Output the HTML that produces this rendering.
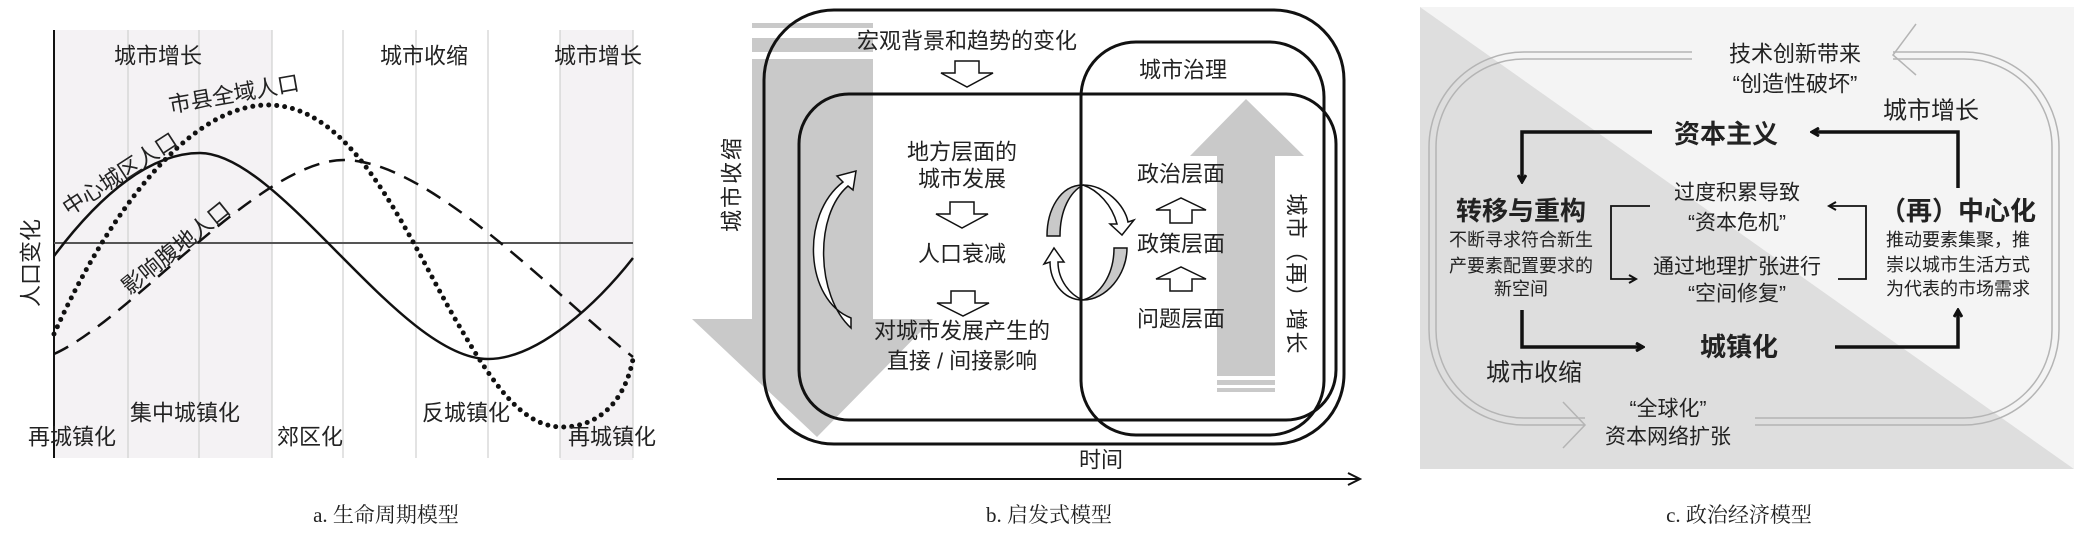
<!DOCTYPE html>
<html><head><meta charset="utf-8"><style>
html,body{margin:0;padding:0;background:#fff;}
svg{display:block;}
text{font-family:"Liberation Sans","Noto Sans CJK SC",sans-serif;fill:#222;}
.cap{font-family:"Liberation Serif","Noto Serif CJK SC",serif;font-size:21px;}
</style></head><body>
<svg width="2080" height="549" viewBox="0 0 2080 549" xmlns="http://www.w3.org/2000/svg">
<defs>
<marker id="ah" markerWidth="10" markerHeight="10" refX="8" refY="5" orient="auto" markerUnits="userSpaceOnUse">
<path d="M1,1 L8,5 L1,9" fill="none" stroke="#111" stroke-width="3"/></marker>
<marker id="ah2" markerWidth="10" markerHeight="10" refX="8" refY="5" orient="auto" markerUnits="userSpaceOnUse">
<path d="M1,1 L8,5 L1,9" fill="none" stroke="#111" stroke-width="2"/></marker>
<marker id="ah3" markerWidth="16" markerHeight="16" refX="14" refY="8" orient="auto" markerUnits="userSpaceOnUse">
<path d="M2,2 L14,8 L2,14" fill="none" stroke="#111" stroke-width="2"/></marker>
</defs>

<!-- ===== Panel a ===== -->
<rect x="54" y="30" width="218" height="428" fill="#f4f2f4"/>
<rect x="560" y="30" width="73" height="430" fill="#f4f2f4"/>
<g stroke="#d0d0d0" stroke-width="1.2">
<line x1="128" y1="30" x2="128" y2="458"/><line x1="199" y1="30" x2="199" y2="458"/>
<line x1="272" y1="30" x2="272" y2="458"/><line x1="343" y1="30" x2="343" y2="458"/>
<line x1="416" y1="30" x2="416" y2="458"/><line x1="488" y1="30" x2="488" y2="458"/>
<line x1="560" y1="30" x2="560" y2="458"/><line x1="633" y1="30" x2="633" y2="458"/>
</g>
<line x1="54" y1="30" x2="54" y2="458" stroke="#111" stroke-width="2"/>
<line x1="54" y1="243" x2="633" y2="243" stroke="#555" stroke-width="2"/>
<path d="M54,256 C100,195 150,153 200,153 C280,153 400,359 488,359 C540,359 600,300 633,258" fill="none" stroke="#111" stroke-width="2.5"/>
<path d="M54,334 C110,210 190,105 268,105 C350,105 400,220 450,310 C490,380 520,427 562,427 C600,427 625,400 633,359" fill="none" stroke="#111" stroke-width="5" stroke-dasharray="0 8" stroke-linecap="round"/>
<path d="M54,354 C130,320 260,160 344,160 C430,160 560,300 633,357" fill="none" stroke="#111" stroke-width="2.5" stroke-dasharray="16 10"/>
<g font-size="22" text-anchor="middle" dominant-baseline="central">
<text x="158" y="56">城市增长</text><text x="424" y="56">城市收缩</text><text x="598" y="56">城市增长</text>
<text x="185" y="413">集中城镇化</text><text x="72" y="437">再城镇化</text><text x="310" y="437">郊区化</text>
<text x="466" y="413">反城镇化</text><text x="612" y="437">再城镇化</text>
<text transform="translate(31,263) rotate(-90)">人口变化</text>
<text transform="translate(120,174) rotate(-33)">中心城区人口</text>
<text transform="translate(234,94) rotate(-10)">市县全域人口</text>
<text transform="translate(176,248) rotate(-39)">影响腹地人口</text>
</g>
<text class="cap" x="386" y="515" text-anchor="middle" dominant-baseline="central">a. 生命周期模型</text>

<!-- ===== Panel b ===== -->
<g fill="#c9c9c9">
<rect x="752" y="23" width="121" height="5"/><rect x="752" y="38" width="121" height="14"/>
<rect x="752" y="59" width="121" height="261"/>
<polygon points="692,319 933,319 817,437"/>
<rect x="1217" y="155" width="58" height="221"/><rect x="1217" y="380" width="58" height="5"/><rect x="1217" y="388" width="58" height="4"/>
<polygon points="1190,156 1304,156 1246,99"/>
</g>
<g fill="none" stroke="#111" stroke-width="3">
<rect x="764" y="10" width="580" height="434" rx="70"/>
<rect x="1081" y="42" width="243" height="393" rx="55"/>
<rect x="799" y="94" width="537" height="326" rx="50"/>
</g>
<g font-size="22" text-anchor="middle" dominant-baseline="central">
<text x="967" y="41">宏观背景和趋势的变化</text>
<text x="1183" y="70">城市治理</text>
<text x="962" y="152">地方层面的</text><text x="962" y="179">城市发展</text>
<text x="962" y="254">人口衰减</text>
<text x="962" y="331">对城市发展产生的</text><text x="962" y="361">直接 / 间接影响</text>
<text x="1181" y="174">政治层面</text><text x="1181" y="244">政策层面</text><text x="1181" y="319">问题层面</text>
<text x="1101" y="460">时间</text>
<text transform="translate(732,184) rotate(-90)" letter-spacing="2">城市收缩</text>
<text transform="translate(1296,274) rotate(90)" letter-spacing="1">城市（再）增长</text>
</g>
<g fill="#fff" stroke="#111" stroke-width="1.5">
<polygon points="955,61 979,61 979,73 993,73 967,87 941,73 955,73"/>
<polygon points="950,202 974,202 974,214 988,214 962,228 936,214 950,214"/>
<polygon points="951,291 975,291 975,303 989,303 963,316 937,303 951,303"/>
<polygon points="1170,223 1192,223 1192,210 1206,210 1181,198 1156,210 1170,210"/>
<polygon points="1170,291 1192,291 1192,279 1206,279 1181,267 1156,279 1170,279"/>
<path d="M851,318 C805,300 800,215 843,182 L837,176 L856,171 L853,190 L848,186 C814,215 816,296 851,328 Z"/>
</g>
<!-- cycle -->
<g stroke="#111" stroke-width="1.5">
<path d="M1083,185 C1060,185 1047,210 1047,236 L1060,236 C1060,210 1070,192 1083,185 Z" fill="#c9c9c9"/>
<path d="M1083,185 C1105,185 1125,205 1128,222 L1134,220 L1122,235 L1110,224 L1117,224 C1112,205 1098,190 1083,185 Z" fill="#fff"/>
<path d="M1083,300 C1106,300 1127,275 1127,248 L1114,248 C1114,275 1100,295 1083,300 Z" fill="#c9c9c9"/>
<path d="M1083,300 C1062,300 1050,280 1050,262 L1044,264 L1054,248 L1064,262 L1058,262 C1058,280 1070,295 1083,300 Z" fill="#fff"/>
</g>
<line x1="777" y1="479" x2="1360" y2="479" stroke="#111" stroke-width="2" marker-end="url(#ah3)"/>
<text class="cap" x="1049" y="515" text-anchor="middle" dominant-baseline="central">b. 启发式模型</text>

<!-- ===== Panel c ===== -->
<polygon points="1420,7 2074,7 2074,469" fill="#f4f4f4"/>
<polygon points="1420,7 2074,469 1420,469" fill="#dedede"/>
<g fill="none" stroke="#b4b4b4" stroke-width="1.5">
<rect x="1429" y="52" width="630" height="373" rx="95"/>
<rect x="1436" y="59" width="616" height="359" rx="88"/>
</g>
<rect x="1692" y="48" width="201" height="16" fill="#f4f4f4"/>
<rect x="1585" y="414" width="170" height="16" fill="#dedede"/>
<g fill="none" stroke="#b4b4b4" stroke-width="1.5">
<polyline points="1916,24 1893,55 1916,75"/>
<polyline points="1563,402 1585,425 1563,448"/>
</g>
<g fill="none" stroke="#111" stroke-width="3.5">
<polyline points="1652,132 1522,132 1522,182" marker-end="url(#ah)"/>
<polyline points="1958,188 1958,132 1812,132" marker-end="url(#ah)"/>
<polyline points="1522,310 1522,347 1643,347" marker-end="url(#ah)"/>
<polyline points="1835,347 1958,347 1958,310" marker-end="url(#ah)"/>
</g>
<g fill="none" stroke="#111" stroke-width="1.8">
<polyline points="1650,206 1611,206 1611,279 1636,279" marker-end="url(#ah2)"/>
<polyline points="1838,279 1866,279 1866,206 1829,206" marker-end="url(#ah2)"/>
</g>
<g text-anchor="middle" dominant-baseline="central">
<text x="1795" y="54" font-size="22">技术创新带来</text><text x="1795" y="84" font-size="22">“创造性破坏”</text>
<text x="1931" y="111" font-size="24">城市增长</text>
<text x="1726" y="134" font-size="26" font-weight="bold">资本主义</text>
<text x="1521" y="211" font-size="26" font-weight="bold">转移与重构</text>
<text x="1521" y="240" font-size="18">不断寻求符合新生</text><text x="1521" y="266" font-size="18">产要素配置要求的</text><text x="1521" y="289" font-size="18">新空间</text>
<text x="1737" y="193" font-size="21">过度积累导致</text><text x="1737" y="223" font-size="21">“资本危机”</text>
<text x="1737" y="267" font-size="21">通过地理扩张进行</text><text x="1737" y="294" font-size="21">“空间修复”</text>
<text x="1958" y="211" font-size="26" font-weight="bold">（再）中心化</text>
<text x="1958" y="240" font-size="18">推动要素集聚，推</text><text x="1958" y="265" font-size="18">崇以城市生活方式</text><text x="1958" y="289" font-size="18">为代表的市场需求</text>
<text x="1739" y="347" font-size="26" font-weight="bold">城镇化</text>
<text x="1534" y="373" font-size="24">城市收缩</text>
<text x="1668" y="409" font-size="21">“全球化”</text><text x="1668" y="437" font-size="21">资本网络扩张</text>
</g>
<text class="cap" x="1739" y="515" text-anchor="middle" dominant-baseline="central">c. 政治经济模型</text>
</svg>
</body></html>
